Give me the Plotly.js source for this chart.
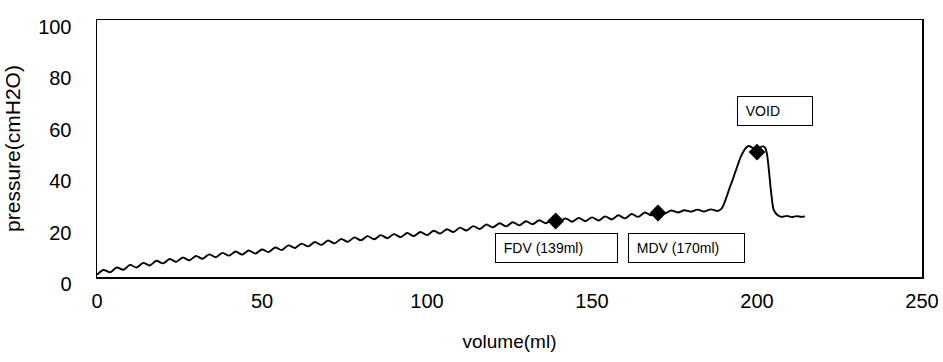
<!DOCTYPE html>
<html>
<head>
<meta charset="utf-8">
<script src="https://cdn.plot.ly/plotly-3.0.1.min.js"></script>
<style>html,body{margin:0;padding:0;background:#fff;}#chart{width:943px;height:362px;}</style>
</head>
<body>
<div id="chart"></div>
<script>
// volume (ml) and pressure (cmH2O)
var volume = [0,2,4,6,8,10,12,14,16,18,20,22,24,26,28,30,32,34,36,38,40,42,44,46,48,50,
  52,54,56,58,60,62,64,66,68,70,72,74,76,78,80,82,84,86,88,90,92,94,96,98,100,
  102,104,106,108,110,112,114,116,118,120,122,124,126,128,130,132,134,136,138,140,
  142,144,146,148,150,152,154,156,158,160,162,164,166,168,170,172,174,176,178,180,
  182,184,186,188,189.2,190,191,191.8,192.8,193.6,194.3,195,195.8,196.8,197.5,198.5,199.5,
  200.5,201.5,202.4,203,203.6,204.3,205.1,206.3,207.5,209,210.5,212,213.5,214.5];
var pressure = [0.9,2.7,1.8,3.7,2.8,4.7,3.7,5.5,4.5,6.3,5.3,7.0,5.9,7.6,6.5,8.2,7.1,8.8,7.7,9.4,8.3,9.9,8.7,10.3,9.1,10.7,
  9.7,11.5,10.5,12.3,11.3,13.0,11.9,13.6,12.5,14.2,13.1,14.8,13.7,15.4,14.3,15.9,14.7,16.3,15.1,16.7,15.5,17.1,15.9,17.5,16.3,
  18.0,16.9,18.6,17.5,19.2,18.1,19.8,18.7,20.4,19.3,20.9,19.7,21.3,20.1,21.7,20.5,22.1,20.9,22.5,21.3,
  22.8,21.5,23.0,21.7,23.2,22.0,23.6,22.4,24.0,22.8,24.5,23.4,25.1,24.0,25.6,24.7,25.9,25.1,26.0,25.4,
  26.2,25.5,26.3,25.7,26.5,28.5,32.0,35.0,38.5,41.5,44.0,46.5,48.6,50.5,51.0,50.4,49.6,
  50.0,50.8,50.4,48.0,41.6,32.7,26.0,24.0,23.4,23.8,23.3,23.7,23.4,23.6];
// marked points
var markVolume = [139, 170, 200];
var markPressure = [21.8, 24.9, 48.6];
var markLabels = ['FDV (139ml)', 'MDV (170ml)', 'VOID'];
var xTicks = [0, 50, 100, 150, 200, 250];
var yTicks = [0, 20, 40, 60, 80, 100];

var FONT = 'Liberation Sans, Arial, sans-serif';
var traces = [
  {x: volume, y: pressure, type: 'scatter', mode: 'lines',
   line: {color: '#000', width: 1.9, shape: 'spline', smoothing: 0.8}, hoverinfo: 'skip'},
  {x: markVolume, y: markPressure, type: 'scatter', mode: 'markers',
   marker: {symbol: 'diamond', size: 13, color: '#000'}}
];
var boxPos = [{x: 139.2, y: 11.3, w: 121}, {x: 178.6, y: 11.3, w: 115}, {x: 205.5, y: 64.6, w: 74}];
var annotations = markLabels.map(function (t, i) {
  return {x: boxPos[i].x, y: boxPos[i].y, xref: 'x', yref: 'y', showarrow: false,
    text: '\u00a0\u00a0' + t, align: 'left', width: boxPos[i].w, height: 28,
    bordercolor: '#000', borderwidth: 1, borderpad: 0, bgcolor: '#fff',
    font: {family: FONT, size: 14, color: '#000'}};
});
var layout = {
  width: 943, height: 362,
  margin: {l: 97, r: 21, t: 20, b: 85},
  paper_bgcolor: '#fff', plot_bgcolor: '#fff',
  showlegend: false,
  font: {family: FONT, size: 20, color: '#000'},
  xaxis: {range: [0, 250], tickvals: xTicks, ticktext: xTicks.map(String),
    showgrid: false, zeroline: false, showline: true, mirror: true,
    linecolor: '#000', linewidth: 1.5, ticks: '', ticklabelstandoff: 5,
    tickfont: {family: FONT, size: 20},
    title: {text: 'volume(ml)', font: {family: FONT, size: 19}, standoff: 24}},
  yaxis: {range: [0, 100], tickvals: yTicks, ticktext: yTicks.map(String),
    showgrid: false, zeroline: false, showline: true, mirror: true,
    linecolor: '#000', linewidth: 1.5, ticks: '', ticklabelstandoff: 20, ticklabelshift: 7,
    tickfont: {family: FONT, size: 20},
    title: {text: 'pressure(cmH2O)', font: {family: FONT, size: 21}, standoff: 12}},
  annotations: annotations
};
Plotly.newPlot('chart', traces, layout, {displayModeBar: false, staticPlot: true});
</script>
</body>
</html>
